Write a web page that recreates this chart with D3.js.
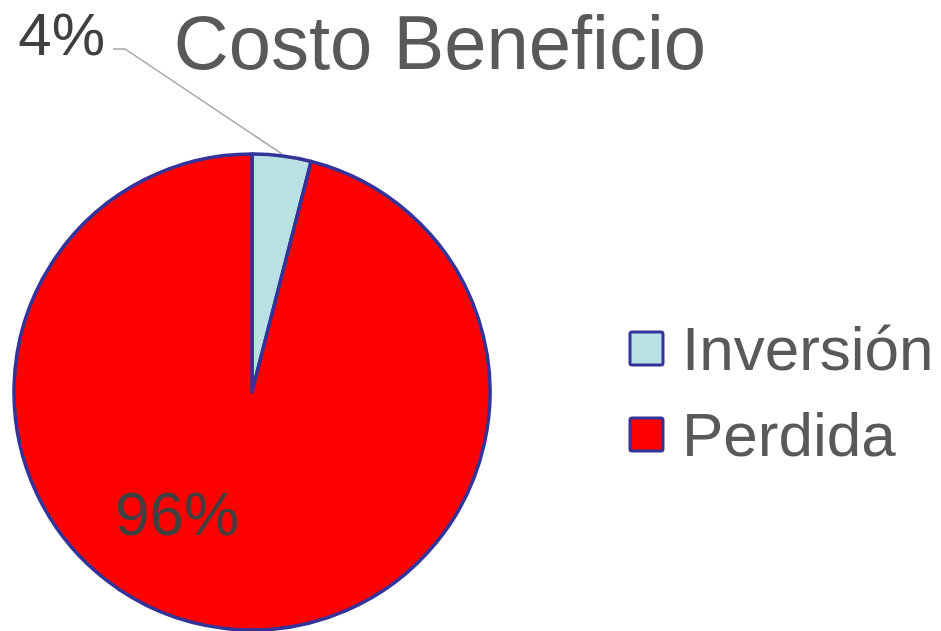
<!DOCTYPE html>
<html>
<head>
<meta charset="utf-8">
<script src="https://cdn.jsdelivr.net/npm/d3@7"></script>
<style>
  html, body { margin: 0; padding: 0; background: #fff; }
  svg { display: block; }
  text { font-family: "Liberation Sans", Arial, sans-serif; }
</style>
</head>
<body>
<svg id="chart" width="941" height="631"></svg>
<script>
// Cost / benefit split
const categories = ["Inversión", "Perdida"];
const values = [4, 96];
const percentLabels = ["4%", "96%"];
const colors = ["#b9e0e3", "#ff0000"];
const title = "Costo Beneficio";

const svg = d3.select("#chart");
const cx = 252, cy = 392, r = 238;

const pie = d3.pie().sort(null).value(d => d)(values);
const arc = d3.arc().innerRadius(0).outerRadius(r);
const color = d3.scaleOrdinal().domain(categories).range(colors);

const g = svg.append("g").attr("transform", `translate(${cx},${cy})`);

g.selectAll("path.slice")
  .data(pie)
  .join("path")
  .attr("class", "slice")
  .attr("d", arc)
  .attr("fill", (d, i) => color(categories[i]))
  .attr("stroke", "#333399")
  .attr("stroke-width", 3.5)
  .attr("stroke-linejoin", "round");

// Title
svg.append("text")
  .attr("x", 440).attr("y", 69)
  .attr("text-anchor", "middle")
  .attr("font-size", 76)
  .attr("fill", "#595959")
  .text(title);

// Small slice: label outside with a leader line
const small = pie[0];
const midA = (small.startAngle + small.endAngle) / 2;
const edge = [Math.sin(midA) * r, -Math.cos(midA) * r];
const labelAnchor = [113 - cx, 49 - cy];
g.append("polyline")
  .attr("points", [[edge[0], edge[1] - 2], [labelAnchor[0] + 12, labelAnchor[1]], labelAnchor].map(p => p.join(",")).join(" "))
  .attr("fill", "none")
  .attr("stroke", "#a6a6a6")
  .attr("stroke-width", 1.5);

svg.append("text")
  .attr("x", 105).attr("y", 55)
  .attr("text-anchor", "end")
  .attr("font-size", 60)
  .attr("fill", "#404040")
  .text(percentLabels[0]);

// Large slice label inside
svg.append("text")
  .attr("x", 177).attr("y", 535)
  .attr("text-anchor", "middle")
  .attr("font-size", 62)
  .attr("fill", "#404040")
  .text(percentLabels[1]);

// Legend
const legend = svg.append("g").attr("transform", "translate(630,332)");
const items = legend.selectAll("g.item")
  .data(categories)
  .join("g")
  .attr("class", "item")
  .attr("transform", (d, i) => `translate(0,${i * 86})`);

items.append("rect")
  .attr("x", 0).attr("y", 0)
  .attr("width", 33).attr("height", 33)
  .attr("rx", 2)
  .attr("fill", d => color(d))
  .attr("stroke", "#333399")
  .attr("stroke-width", 3);

items.append("text")
  .attr("x", 52).attr("y", 38)
  .attr("font-size", 62)
  .attr("fill", "#595959")
  .text(d => d);
</script>
</body>
</html>
